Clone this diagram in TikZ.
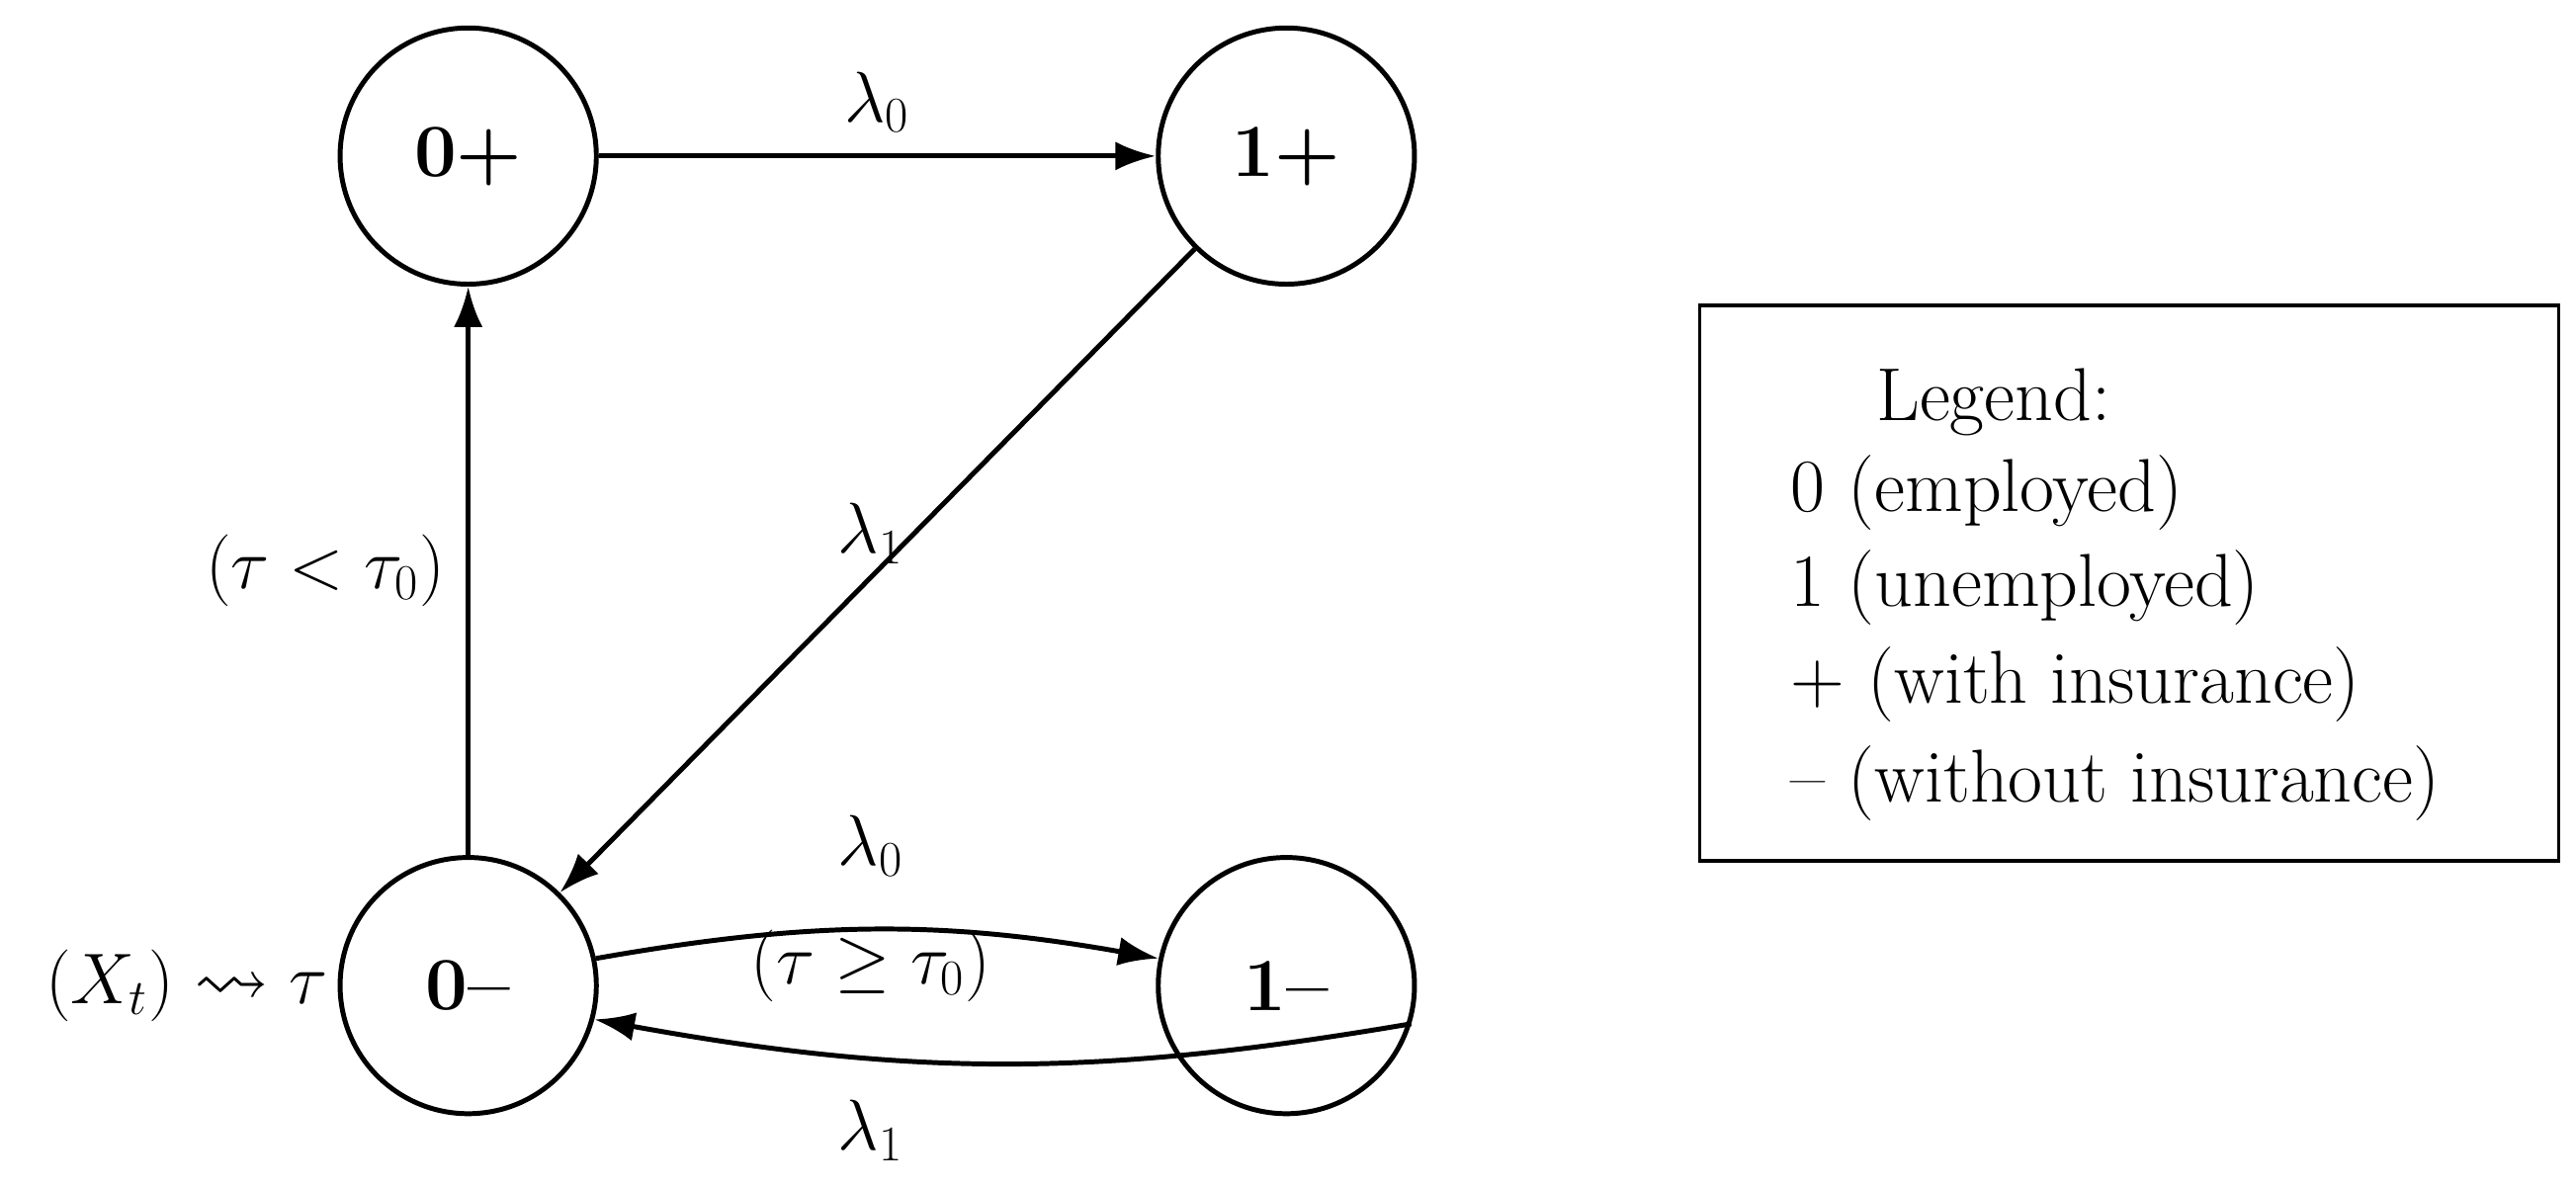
\documentclass[tikz,border=0pt]{standalone}
\usepackage{amssymb}
\usetikzlibrary{arrows.meta}
\begin{document}
\begin{tikzpicture}[x=0.02cm,y=-0.02cm,
  st/.style={circle,draw,line width=1.7pt,minimum size=3.12cm,inner sep=0pt,font=\fontsize{26}{30}\selectfont\bfseries},
  ar/.style={line width=1.7pt,-{Latex[length=14pt,width=10pt]}},
  lb/.style={font=\fontsize{26}{30}\selectfont}]
\useasboundingbox (0,0) rectangle (1568,723);
\node[st] (a) at (285,95) {0+};
\node[st] (b) at (783,95) {1+};
\node[st] (c) at (285,600) {0--};
\node[st] (d) at (783,600) {1--};
\draw[ar] (a) -- (b) node[lb,midway,above=4pt] {$\lambda_0$};
\draw[ar] (b) -- (c);
\node[lb] (l1) at (530,325) {$\lambda_1$};
\draw[ar] (c) -- (a) node[lb,midway,left=4pt] {$(\tau<\tau_0)$};
\draw[ar] (c.12) to[bend left=10] (d.168);
\node[lb] (l2) at (530,515) {$\lambda_0$};
\node[lb] (l3) at (530,588) {$(\tau\geq\tau_0)$};
\draw[ar] (d.-17) to[bend left=10] (c.-15);
\node[lb] (l4) at (530,688) {$\lambda_1$};
\node[lb,left=0pt] (xt) at (c.west) {$(X_t)\rightsquigarrow\tau$};
\node[draw,line width=1.2pt,minimum width=523*0.02cm,minimum height=338*0.02cm] (leg) at (1296,355) {};
\node[lb,anchor=west] (g0) at (1136,245) {Legend:};
\node[lb,anchor=west] (g1) at (1084,300) {0 (employed)};
\node[lb,anchor=west] (g2) at (1084,358) {1 (unemployed)};
\node[lb,anchor=west] (g3) at (1084,417) {+ (with insurance)};
\node[lb,anchor=west] (g4) at (1084,477) {-- (without insurance)};
\end{tikzpicture}
\end{document}
